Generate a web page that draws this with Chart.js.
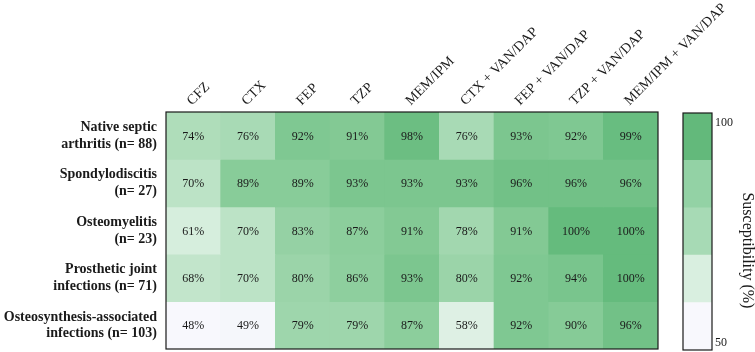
<!DOCTYPE html>
<html>
<head>
<meta charset="utf-8">
<script src="https://cdn.jsdelivr.net/npm/chart.js@4.4.1/dist/chart.umd.min.js"></script>
<style>
  body { margin: 0; background: #fff; }
  #wrap { position: relative; width: 755px; height: 352px; }
  #heat { position: absolute; left: 0; top: 0; }
  #bar { position: absolute; left: 660px; top: 0; }
</style>
</head>
<body>
<div id="wrap">
  <canvas id="heat" width="755" height="352"></canvas>
  <canvas id="bar" width="95" height="352"></canvas>
</div>
<script>
// antibiotic regimens (columns)
const drugs = ['CFZ', 'CTX', 'FEP', 'TZP', 'MEM/IPM', 'CTX + VAN/DAP', 'FEP + VAN/DAP', 'TZP + VAN/DAP', 'MEM/IPM + VAN/DAP'];

// infection types (rows), two lines each
const infections = [
    ['Native septic', 'arthritis (n= 88)'],
    ['Spondylodiscitis', '(n= 27)'],
    ['Osteomyelitis', '(n= 23)'],
    ['Prosthetic joint', 'infections (n= 71)'],
    ['Osteosynthesis-associated', 'infections (n= 103)']
];

// susceptibility in %, one array per row
const nativeSeptic = [74, 76, 92, 91, 98, 76, 93, 92, 99];
const spondylodiscitis = [70, 89, 89, 93, 93, 93, 96, 96, 96];
const osteomyelitis = [61, 70, 83, 87, 91, 78, 91, 100, 100];
const prostheticJoint = [68, 70, 80, 86, 93, 80, 92, 94, 100];
const osteosynthesis = [48, 49, 79, 79, 87, 58, 92, 90, 96];
const susceptibility = [nativeSeptic, spondylodiscitis, osteomyelitis, prostheticJoint, osteosynthesis];

// colour bar bands and tick labels
const cbBandLow = [50, 60, 70, 80, 90];
const cbTickLabels = ['100', '50'];
const cbTitle = 'Susceptibility (%)';

// colour map
const cmap = [[48, '#f8f8fd'], [61, '#d6eedd'], [70, '#bce3c6'], [80, '#9bd4a9'], [90, '#86cb97'], [100, '#65bb7d']];
const bandColors = ['#f8f8fd', '#d9efe0', '#a7dab5', '#93d2a5', '#63b97b'];

function hexRgb(h) {
    return [parseInt(h.slice(1, 3), 16), parseInt(h.slice(3, 5), 16), parseInt(h.slice(5, 7), 16)];
}

function colorFor(v) {
    for (let i = 0; i < cmap.length - 1; i++) {
        let [v0, c0] = cmap[i];
        let [v1, c1] = cmap[i + 1];
        if (v <= v1 || i === cmap.length - 2) {
            let t = Math.max(0, Math.min(1, (v - v0) / (v1 - v0)));
            let a = hexRgb(c0), b = hexRgb(c1);
            let rgb = a.map((x, k) => Math.round(x + (b[k] - x) * t));
            return `rgb(${rgb[0]},${rgb[1]},${rgb[2]})`;
        }
    }
}

const serif = '"Liberation Serif", "Times New Roman", serif';
const ink = '#1a1a1a';

// frame around the plot area
const frame = {
    id: 'frame',
    afterDatasetsDraw(chart) {
        let a = chart.chartArea, ctx = chart.ctx;
        ctx.save();
        ctx.strokeStyle = ink;
        ctx.lineWidth = 1.2;
        ctx.strokeRect(a.left, a.top, a.right - a.left, a.bottom - a.top);
        ctx.restore();
    }
};

// writes the % in each cell
const cellText = {
    id: 'cellText',
    afterDatasetsDraw(chart) {
        let ctx = chart.ctx;
        ctx.save();
        ctx.font = '12px ' + serif;
        ctx.fillStyle = ink;
        ctx.textAlign = 'center';
        ctx.textBaseline = 'middle';
        chart.data.datasets.forEach((ds, r) => {
            chart.getDatasetMeta(r).data.forEach((bar, c) => {
                let p = bar.getCenterPoint();
                ctx.fillText(susceptibility[r][c] + '%', p.x, p.y + 1);
            });
        });
        ctx.restore();
    }
};

// colour bar title, sits a bit below the bar's middle in the original
const cbTitlePlugin = {
    id: 'cbTitle',
    afterDraw(chart) {
        let ctx = chart.ctx;
        let s = chart.scales.y;
        ctx.save();
        ctx.translate(87, s.getPixelForValue(71));
        ctx.rotate(Math.PI / 2);
        ctx.font = '16px ' + serif;
        ctx.fillStyle = ink;
        ctx.textAlign = 'center';
        ctx.textBaseline = 'middle';
        ctx.fillText(cbTitle, 0, 0);
        ctx.restore();
    }
};

new Chart(document.getElementById('heat'), {
    type: 'bar',
    data: {
        labels: drugs,
        datasets: susceptibility.map((row, r) => ({
            data: row.map(() => [r, r + 1]),
            backgroundColor: row.map(colorFor),
            borderWidth: 0,
            grouped: false,
            barPercentage: 1,
            categoryPercentage: 1
        }))
    },
    options: {
        responsive: false,
        animation: false,
        devicePixelRatio: 1,
        layout: { padding: { left: 0, right: 97, top: 0, bottom: 3 } },
        plugins: { legend: { display: false }, tooltip: { enabled: false } },
        scales: {
            x: {
                type: 'category',
                position: 'top',
                grid: { display: false },
                border: { display: false },
                ticks: {
                    color: ink,
                    font: { family: serif, size: 14 },
                    minRotation: 45,
                    maxRotation: 45,
                    padding: -5,
                    labelOffset: 8
                },
                afterFit(s) { s.height = 112; s.paddingLeft = 0; s.paddingRight = 0; }
            },
            y: {
                type: 'linear',
                reverse: true,
                min: 0,
                max: 5,
                grid: { display: false, drawTicks: false },
                border: { display: false },
                afterBuildTicks(s) { s.ticks = infections.map((_, i) => ({ value: i + 0.5 })); },
                ticks: {
                    color: ink,
                    padding: 9,
                    font: { family: serif, size: 14, weight: 'bold', lineHeight: 1.2 },
                    callback: (v) => infections[Math.floor(v)]
                },
                afterFit(s) { s.width = 166; s.paddingTop = 0; s.paddingBottom = 0; }
            }
        }
    },
    plugins: [cellText, frame]
});

new Chart(document.getElementById('bar'), {
    type: 'bar',
    data: {
        labels: [''],
        datasets: cbBandLow.map((lo, i) => ({
            data: [[lo, lo + 10]],
            backgroundColor: bandColors[i],
            borderWidth: 0,
            grouped: false,
            barPercentage: 1,
            categoryPercentage: 1
        }))
    },
    options: {
        responsive: false,
        animation: false,
        devicePixelRatio: 1,
        layout: { padding: { left: 23, right: 0, top: 113, bottom: 2 } },
        plugins: { legend: { display: false }, tooltip: { enabled: false } },
        scales: {
            x: { display: false },
            y: {
                position: 'right',
                min: 50,
                max: 100,
                grid: { display: false, drawTicks: false },
                border: { display: false },
                afterBuildTicks(s) { s.ticks = [{ value: 98 }, { value: 51.5 }]; },
                ticks: {
                    color: ink,
                    padding: 3,
                    font: { family: serif, size: 12 },
                    callback: (v, i) => cbTickLabels[i]
                },
                afterFit(s) { s.width = 43; s.paddingTop = 0; s.paddingBottom = 0; }
            }
        }
    },
    plugins: [frame, cbTitlePlugin]
});
</script>
</body>
</html>
